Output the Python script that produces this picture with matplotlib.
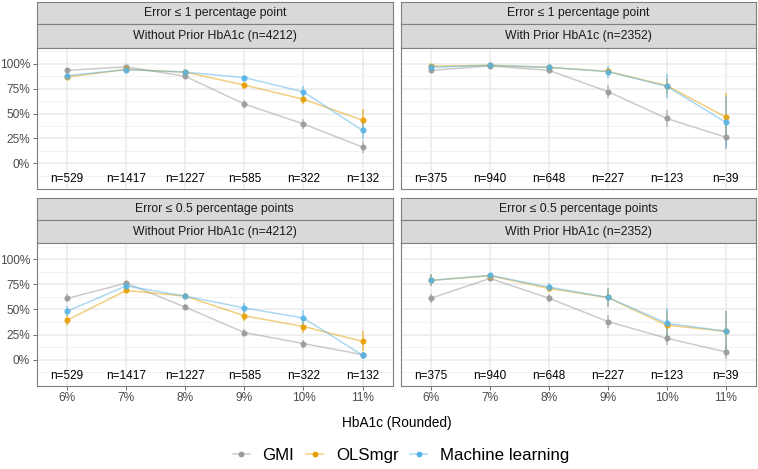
import matplotlib
matplotlib.use('Agg')
import matplotlib.pyplot as plt
import numpy as np
from matplotlib.lines import Line2D
from matplotlib.colors import to_rgba

plt.rcParams['font.family'] = ['Liberation Sans', 'DejaVu Sans']

# ---------------- data ----------------
categories = ['6%', '7%', '8%', '9%', '10%', '11%']
row_titles = ['Error \u2264 1 percentage point', 'Error \u2264 0.5 percentage points']
col_titles = ['Without Prior HbA1c (n=4212)', 'With Prior HbA1c (n=2352)']
n_without = [529, 1417, 1227, 585, 322, 132]
n_with = [375, 940, 648, 227, 123, 39]
series_names = ['GMI', 'OLSmgr', 'Machine learning']
series_colors = ['#999999', '#E69F00', '#56B4E9']

# values in percent
e1_without_gmi = [93.3, 96.8, 87.3, 59.5, 39.5, 16.3]
e1_without_ols = [86.5, 94.3, 91.5, 78.5, 64.3, 43.3]
e1_without_ml = [88.0, 94.0, 91.5, 86.0, 71.7, 33.0]
e1_with_gmi = [93.3, 97.7, 93.3, 72.0, 45.0, 26.3]
e1_with_ols = [97.5, 98.3, 96.3, 92.3, 78.0, 46.5]
e1_with_ml = [96.3, 98.3, 96.3, 92.0, 77.3, 41.3]
e05_without_gmi = [61.0, 76.3, 52.3, 27.0, 16.0, 5.0]
e05_without_ols = [39.3, 69.0, 63.3, 43.7, 33.0, 18.2]
e05_without_ml = [48.3, 73.5, 63.3, 51.5, 41.5, 4.3]
e05_with_gmi = [61.3, 81.0, 61.3, 38.0, 21.3, 7.7]
e05_with_ols = [79.0, 83.7, 71.0, 62.0, 34.3, 28.3]
e05_with_ml = [79.0, 84.0, 72.3, 62.0, 36.3, 28.3]

# half-widths of the interval bars (percentage points)
e1_without_gmi_err = [1.5, 1.0, 2.0, 4.0, 5.0, 6.0]
e1_without_ols_err = [2.5, 1.2, 1.5, 3.5, 5.0, 11.7]
e1_without_ml_err = [2.5, 1.2, 1.5, 3.0, 6.0, 9.0]
e1_with_gmi_err = [2.0, 1.0, 2.0, 6.5, 9.0, 12.0]
e1_with_ols_err = [1.5, 1.0, 1.5, 3.5, 8.0, 24.0]
e1_with_ml_err = [1.5, 1.0, 1.5, 6.0, 12.0, 26.0]
e05_without_gmi_err = [4.0, 2.2, 2.8, 3.5, 4.0, 3.0]
e05_without_ols_err = [5.0, 2.4, 2.7, 5.0, 6.5, 10.0]
e05_without_ml_err = [5.0, 2.3, 2.7, 5.0, 7.5, 3.5]
e05_with_gmi_err = [4.5, 2.5, 3.8, 6.5, 6.5, 7.0]
e05_with_ols_err = [6.0, 2.5, 4.0, 9.5, 14.0, 20.0]
e05_with_ml_err = [6.0, 2.5, 4.0, 9.5, 15.0, 20.0]

panels = {
    (0, 0): ([e1_without_gmi, e1_without_ols, e1_without_ml],
             [e1_without_gmi_err, e1_without_ols_err, e1_without_ml_err], n_without),
    (0, 1): ([e1_with_gmi, e1_with_ols, e1_with_ml],
             [e1_with_gmi_err, e1_with_ols_err, e1_with_ml_err], n_with),
    (1, 0): ([e05_without_gmi, e05_without_ols, e05_without_ml],
             [e05_without_gmi_err, e05_without_ols_err, e05_without_ml_err], n_without),
    (1, 1): ([e05_with_gmi, e05_with_ols, e05_with_ml],
             [e05_with_gmi_err, e05_with_ols_err, e05_with_ml_err], n_with),
}

# ---------------- layout ----------------
W, H = 758, 469
fig = plt.figure(figsize=(W / 100, H / 100), dpi=100)


def add_axes(l, t, r, b):
    return fig.add_axes([l / W, 1 - b / H, (r - l) / W, (b - t) / H])


cols_x = [(36.7, 393.0), (400.7, 756.0)]
rows_y = [(1.7, 24.3, 47.7, 189.3), (198.3, 220.0, 243.3, 385.7)]
border_col = '#7F7F7F'
strip_fill = '#D9D9D9'

x = np.arange(len(categories))

for (i, j), (vals_list, err_list, ns) in panels.items():
    l, r = cols_x[j]
    t1, t2, t3, b = rows_y[i]
    # strips
    for (st, sb, label) in [(t1, t2, row_titles[i]), (t2, t3, col_titles[j])]:
        sax = add_axes(l, st, r, sb)
        sax.set_facecolor(strip_fill)
        sax.set_xticks([])
        sax.set_yticks([])
        for sp in sax.spines.values():
            sp.set_color(border_col)
            sp.set_linewidth(0.8)
        sax.text(0.5, 0.5, label, transform=sax.transAxes, ha='center', va='center',
                 fontsize=8.8, color='#1A1A1A')

    ax = add_axes(l, t3, r, b)
    ax.set_xlim(-0.515, 5.515)
    ax.set_ylim(-26, 116)
    ax.set_yticks([0, 25, 50, 75, 100])
    ax.set_yticks([-12.5, 12.5, 37.5, 62.5, 87.5, 112.5], minor=True)
    ax.set_yticklabels([f'{v}%' for v in [0, 25, 50, 75, 100]])
    ax.set_xticks(x)
    ax.set_xticklabels(categories)
    ax.set_axisbelow(True)
    ax.yaxis.grid(True, which='major', color='#EBEBEB', lw=1.1)
    ax.yaxis.grid(True, which='minor', color='#F2F2F2', lw=0.7)
    ax.xaxis.grid(True, which='major', color='#EBEBEB', lw=1.1)
    for sp in ax.spines.values():
        sp.set_color(border_col)
        sp.set_linewidth(0.8)
    ax.tick_params(which='minor', length=0)
    ax.tick_params(which='major', length=2.75, width=0.5, color='#333333',
                   labelsize=8.6, labelcolor='#4D4D4D', pad=2)
    if j == 1:
        ax.tick_params(axis='y', length=0, labelleft=False)
    if i == 0:
        ax.tick_params(axis='x', length=0, labelbottom=False)

    for vals, col in zip(vals_list, series_colors):
        ax.plot(x, vals, color=col, lw=1.1, alpha=0.5, zorder=2)
    for vals, err, col in zip(vals_list, err_list, series_colors):
        v = np.array(vals)
        e = np.array(err)
        ax.vlines(x, v - e, v + e, color=col, lw=1.3, alpha=0.55, zorder=2.5)
    for vals, col in zip(vals_list, series_colors):
        ax.plot(x, vals, 'o', color=col, ms=4.4, mew=0, alpha=0.9, zorder=3)

    for xi, n in zip(x, ns):
        ax.text(xi, -16, f'n={n}', ha='center', va='center', fontsize=8.5, color='black')

fig.text(396.5 / W, 1 - 423 / H, 'HbA1c (Rounded)', ha='center', va='center',
         fontsize=9.8, color='black')

handles = [Line2D([], [], color=to_rgba(c, 0.5), lw=1.1, marker='o', ms=4.2,
                  markerfacecolor=c, markeredgecolor=c, mew=0) for c in series_colors]
fig.legend(handles, series_names, loc='center', bbox_to_anchor=(401 / W, 1 - 455 / H),
           ncol=3, frameon=False, fontsize=12.2, handlelength=1.0, handletextpad=0.75,
           columnspacing=0.7, borderaxespad=0, borderpad=0)

fig.savefig('out.png', dpi=100)
